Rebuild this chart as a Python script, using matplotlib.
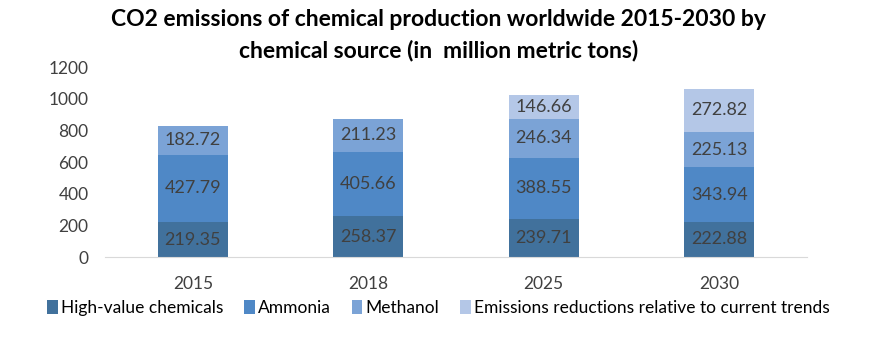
import matplotlib.pyplot as plt
import numpy as np

plt.rcParams['font.family'] = ['Lato', 'DejaVu Sans']

years = ["2015", "2018", "2025", "2030"]
high_value = [219.35, 258.37, 239.71, 222.88]
ammonia = [427.79, 405.66, 388.55, 343.94]
methanol = [182.72, 211.23, 246.34, 225.13]
reductions = [0, 0, 146.66, 272.82]

series_names = ["High-value chemicals", "Ammonia", "Methanol",
                "Emissions reductions relative to current trends"]
colors = ["#41719C", "#4F88C6", "#7BA3D6", "#B4C7E7"]

fig = plt.figure(figsize=(8.77, 3.63), dpi=100)
ax = fig.add_axes([0.12, 0.292, 0.80, 0.523])

x = np.arange(len(years))
bottom = np.zeros(len(years))
for vals, name, c in zip([high_value, ammonia, methanol, reductions], series_names, colors):
    vals = np.array(vals)
    ax.bar(x, vals, 0.4, bottom=bottom, color=c, label=name)
    for xi, v, b in zip(x, vals, bottom):
        if v > 0:
            ax.text(xi, b + v / 2, f"{v:.2f}", ha="center", va="center",
                    fontsize=13, color="#404040")
    bottom += vals

ax.set_xlim(-0.5, len(years) - 0.5)
ax.set_ylim(0, 1200)
ax.set_yticks(range(0, 1201, 200))
ax.set_xticks(x)
ax.set_xticklabels(years)
ax.tick_params(axis="both", length=0, labelsize=12.5, labelcolor="#404040")
ax.tick_params(axis="y", pad=12)
ax.tick_params(axis="x", pad=14)
for s in ["top", "right", "left"]:
    ax.spines[s].set_visible(False)
ax.spines["bottom"].set_color("#D9D9D9")

fig.suptitle("CO2 emissions of chemical production worldwide 2015-2030 by\nchemical source (in  million metric tons)",
             x=0.5, y=0.975, fontsize=16.5, fontweight="bold", linespacing=1.55)

fig.legend(loc="center", bbox_to_anchor=(0.5, 0.152), ncol=4, frameon=False,
           fontsize=12.5, handlelength=0.6, handleheight=0.9, handletextpad=0.2,
           columnspacing=1.2, labelcolor="#000000")

fig.savefig("out.png", dpi=100)
